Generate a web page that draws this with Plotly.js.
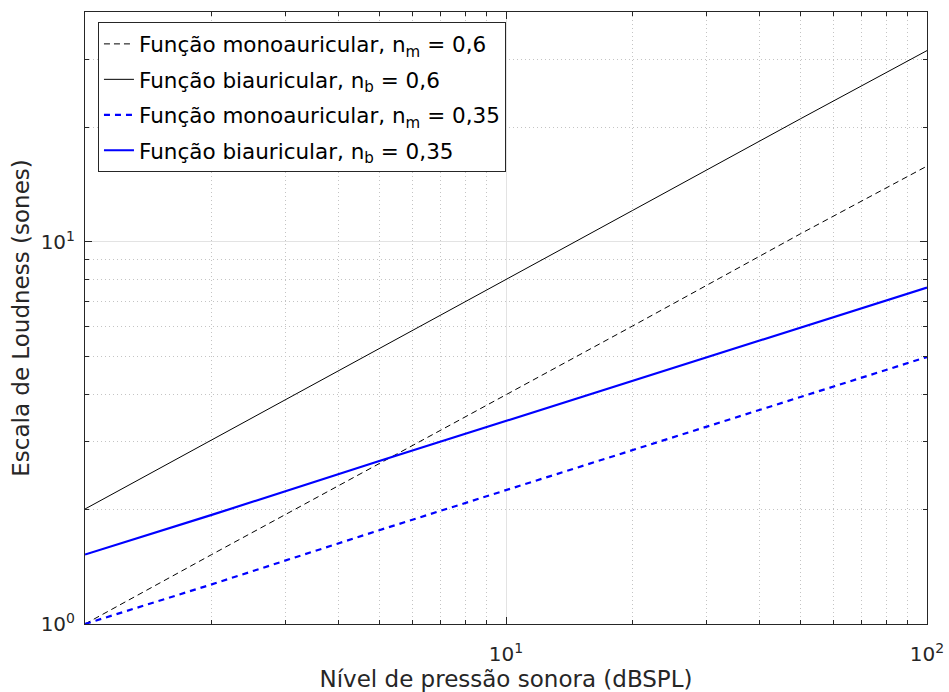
<!DOCTYPE html>
<html>
<head>
<meta charset="utf-8">
<script src="https://cdn.plot.ly/plotly-3.0.1.min.js"></script>
<style>html,body{margin:0;padding:0;background:#fff;}#chart{width:949px;height:692px;}</style>
</head>
<body>
<div id="chart"></div>
<script>
// Sound pressure level (x) sample points
const xLevel = [1, 2, 5, 10, 20, 50, 100];
// Loudness
const monoN060 = [1.0, 1.52, 2.63, 3.98, 6.03, 10.5, 15.8];
const biN060   = [2.0, 3.03, 5.25, 7.96, 12.1, 21.0, 31.7];
const monoN035 = [1.0, 1.27, 1.76, 2.24, 2.85, 3.93, 5.0];
const biN035   = [1.52, 1.93, 2.67, 3.40, 4.32, 5.97, 7.6];

const seriesNames = [
  'Função monoauricular, n<sub>m</sub> = 0,6',
  'Função biauricular, n<sub>b</sub> = 0,6',
  'Função monoauricular, n<sub>m</sub> = 0,35',
  'Função biauricular, n<sub>b</sub> = 0,35'
];

const xTickVals = [1, 10, 100];
const xTickText = ['', '10<sup>1</sup>', '10<sup>2</sup>'];
const yTickVals = [1, 10];
const yTickText = ['10<sup>0</sup>', '10<sup>1</sup>'];

const xMinor = [];
for (const d of [1, 10]) for (let k = 2; k <= 9; k++) xMinor.push(k * d);
const yMinor = [];
for (const d of [1, 10]) for (let k = 2; k <= 9; k++) if (k * d <= 40) yMinor.push(k * d);

const FONT = 'DejaVu Sans, sans-serif';
const TXT = '#262626';

const traces = [
  {x: xLevel, y: monoN060, name: seriesNames[0], legendgroup: 'a', mode: 'lines', line: {color: '#000000', width: 1, dash: '6px,4px'}},
  {x: xLevel, y: biN060, name: seriesNames[1], legendgroup: 'b', mode: 'lines', line: {color: '#000000', width: 1}},
  {x: xLevel, y: monoN035, name: seriesNames[2], legendgroup: 'c', mode: 'lines', line: {color: '#0000ff', width: 2.2, dash: '6px,5px'}},
  {x: xLevel, y: biN035, name: seriesNames[3], legendgroup: 'd', mode: 'lines', line: {color: '#0000ff', width: 2.2}}
];

function axisBase() {
  return {
    type: 'log',
    showline: true, linecolor: TXT, linewidth: 1, mirror: 'allticks',
    ticks: 'inside', ticklen: 7, tickcolor: TXT, tickwidth: 1,
    showgrid: true, gridcolor: '#e3e3e3', gridwidth: 1,
    zeroline: false,
    tickfont: {family: FONT, size: 20, color: TXT},
    tickmode: 'array'
  };
}

const xaxis = Object.assign(axisBase(), {
  range: [0, 2],
  tickvals: xTickVals, ticktext: xTickText,
  ticklabelstandoff: 12,
  minor: {tickmode: 'array', tickvals: xMinor, ticks: 'inside', ticklen: 4, tickcolor: TXT,
          showgrid: true, gridcolor: '#c4c4c4', griddash: '1px,3px', gridwidth: 1},
  title: {text: 'Nível de pressão sonora (dBSPL)', font: {family: FONT, size: 23, color: TXT}, standoff: 8}
});
const yaxis = Object.assign(axisBase(), {
  range: [0, Math.log10(40)],
  tickvals: yTickVals, ticktext: yTickText,
  ticklabelstandoff: 5,
  minor: {tickmode: 'array', tickvals: yMinor, ticks: 'inside', ticklen: 4, tickcolor: TXT,
          showgrid: true, gridcolor: '#c4c4c4', griddash: '1px,3px', gridwidth: 1},
  title: {text: 'Escala de Loudness (sones)', font: {family: FONT, size: 23, color: TXT}, standoff: 4}
});

const layout = {
  width: 949, height: 692,
  margin: {l: 85, r: 22, t: 12, b: 68, pad: 0},
  paper_bgcolor: '#ffffff', plot_bgcolor: '#ffffff',
  showlegend: true,
  legend: {
    x: 0.0154, y: 0.983, xanchor: 'left', yanchor: 'top',
    bgcolor: '#ffffff', bordercolor: TXT, borderwidth: 1,
    tracegroupgap: 4.5,
    font: {family: FONT, size: 21.5, color: '#000000'}
  },
  xaxis: xaxis, yaxis: yaxis,
  hovermode: false
};

Plotly.newPlot('chart', traces, layout, {displayModeBar: false, staticPlot: true});
</script>
</body>
</html>
